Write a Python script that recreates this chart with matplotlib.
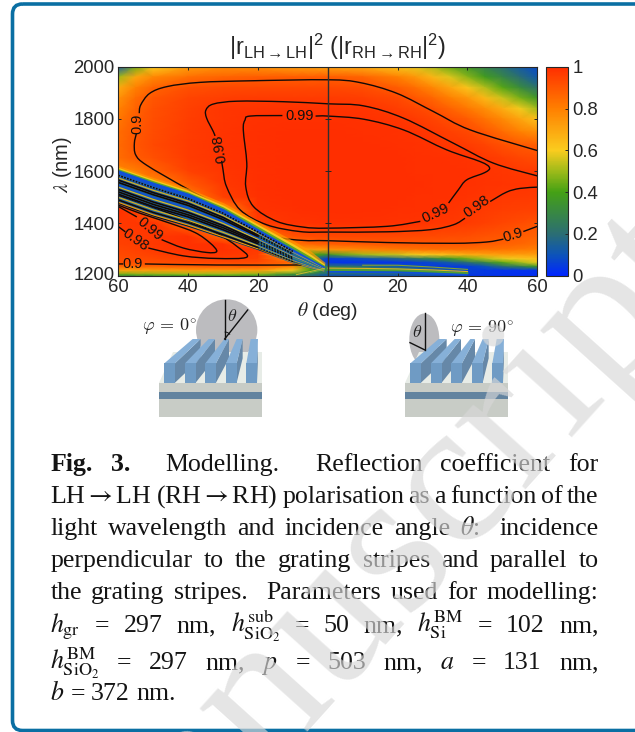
import numpy as np
import matplotlib
matplotlib.use("Agg")
import matplotlib.pyplot as plt
from matplotlib.colors import LinearSegmentedColormap, Normalize
from matplotlib.patches import Polygon, Ellipse, FancyBboxPatch, Arc, PathPatch
from matplotlib.path import Path
from matplotlib.cm import ScalarMappable
from matplotlib.transforms import ScaledTranslation

# ---------- heat-map values ----------
thetas = [-60, -55, -50, -40, -30, -20, -10, -5, 0, 10, 20, 25, 30, 35, 40, 45, 50, 55, 60]
lambdas = [2000, 1960, 1920, 1880, 1840, 1800, 1750, 1700, 1650, 1600, 1550, 1500,
           1450, 1400, 1350, 1320, 1300, 1280, 1265, 1250, 1235, 1220, 1205, 1200]
reflect = [
 [.12, .45, .60, .72, .76, .75, .72, .71, .70, .68, .62, .58, .52, .44, .36, .28, .20, .13, .08],
 [.50, .70, .78, .84, .87, .885, .885, .885, .885, .87, .80, .74, .66, .57, .48, .38, .30, .20, .12],
 [.68, .80, .87, .915, .93, .935, .935, .935, .935, .925, .885, .84, .78, .70, .62, .52, .42, .32, .22],
 [.75, .85, .90, .945, .96, .965, .967, .967, .967, .96, .93, .90, .86, .80, .74, .65, .55, .46, .36],
 [.79, .87, .915, .955, .978, .983, .985, .985, .985, .982, .96, .94, .915, .87, .82, .76, .68, .59, .50],
 [.82, .885, .92, .96, .98, .99, .993, .993, .993, .99, .98, .965, .945, .92, .885, .83, .77, .70, .63],
 [.84, .895, .925, .962, .981, .993, .997, .998, .998, .996, .99, .985, .975, .955, .935, .90, .85, .80, .76],
 [.85, .90, .93, .967, .982, .995, .998, .999, .999, .998, .995, .99, .985, .975, .965, .945, .915, .895, .88],
 [.84, .89, .915, .968, .983, .995, .998, .999, .999, .999, .997, .995, .993, .99, .985, .975, .96, .94, .925],
 [.78, .80, .87, .95, .98, .995, .998, .999, .999, .999, .998, .996, .995, .993, .989, .984, .978, .972, .965],
 [.85, .82, .75, .89, .975, .994, .998, .999, .999, .999, .998, .997, .996, .993, .989, .985, .982, .982, .982],
 [.93, .85, .80, .80, .955, .992, .997, .998, .999, .999, .998, .996, .994, .99, .985, .98, .975, .97, .965],
 [.99, .95, .85, .80, .75, .985, .995, .997, .998, .998, .996, .993, .99, .983, .975, .967, .96, .955, .95],
 [.975, .98, .985, .85, .80, .96, .985, .988, .99, .99, .988, .985, .98, .973, .965, .955, .94, .925, .905],
 [.96, .968, .975, .99, .85, .80, .91, .925, .93, .935, .935, .933, .93, .925, .92, .91, .90, .885, .87],
 [.95, .96, .97, .99, .992, .85, .82, .86, .88, .89, .895, .895, .895, .895, .895, .885, .875, .86, .84],
 [.94, .952, .965, .985, .99, .97, .72, .72, .74, .78, .82, .83, .84, .84, .84, .835, .83, .815, .80],
 [.93, .94, .95, .975, .98, .96, .60, .40, .35, .50, .55, .59, .62, .65, .68, .70, .72, .72, .72],
 [.92, .928, .935, .95, .96, .95, .75, .30, .05, .10, .18, .24, .30, .37, .45, .52, .58, .62, .64],
 [.91, .915, .92, .93, .93, .925, .85, .35, .03, .03, .03, .05, .08, .13, .20, .30, .42, .50, .58],
 [.86, .865, .87, .88, .88, .88, .80, .45, .25, .20, .12, .08, .04, .04, .05, .10, .20, .28, .38],
 [.70, .71, .72, .73, .73, .72, .60, .40, .30, .30, .30, .25, .20, .12, .06, .04, .03, .03, .03],
 [.45, .47, .48, .50, .50, .48, .35, .25, .15, .15, .15, .14, .12, .08, .05, .04, .03, .02, .02],
 [.32, .34, .35, .38, .38, .36, .25, .18, .10, .10, .10, .09, .08, .05, .03, .03, .02, .02, .02],
]

# ---------- contour lines (nan = label gap) ----------
nan = float("nan")
c90_top_t = [-54.0, -53.6, -51, -46, -36.6, -22.3, 0, 9.3, 19.8, 30.3, 40.8, 60]
c90_top_l = [1822, 1853, 1898, 1924, 1940, 1946, 1950, 1939, 1898, 1828, 1758, 1679]
c90_low_t = [-54.8, -55.4, -55, -52, -41.4, -31.8, -22.3, -14.6, -7, 0, 17, 36, 45.5, 50.3, nan, 56, 60]
c90_low_l = [1745, 1707, 1662, 1624, 1541, 1471, 1389, 1348, 1335, 1334, 1327, 1324, 1329, 1340, nan, 1369, 1389]
c98_top_t = [-30.4, -30, -29, -25.1, -17.5, -8, 0, 17, 29.3, 36, 39.3, nan, 46.5, 51.2, 55, 60]
c98_top_l = [1640, 1605, 1541, 1452, 1395, 1369, 1367, 1368, 1376, 1395, 1420, nan, 1484, 1520, 1534, 1539]
c98_up_t = [-32.3, -32.8, -34.7, -34.9, -32.8, -26, -12.7, 0, 10.3, 21.7, 36, 47.4, 60]
c98_up_l = [1735, 1752, 1803, 1834, 1857, 1868, 1866, 1858, 1850, 1803, 1707, 1631, 1582]
c99_t = [-3.5, 0, 10.3, 21.7, 34, 43.6, 46.3, 45, 39.8, 37.4, 34.6, nan, 26.5, 17, 0, -7, -14.6, -21.3, -23.5, -23.2, -24.2, -23.7, -22.3, -13.0]
c99_l = [1811, 1811, 1799, 1758, 1682, 1637, 1614, 1595, 1567, 1529, 1478, nan, 1408, 1389, 1382, 1386, 1408, 1465, 1541, 1631, 1758, 1796, 1811, 1813]
lobe99_t = [-60, -54.7, nan, -47.6, -41.4, -34.7, -31.8, -33.7, -38, -45, -54, -60]
lobe99_l = [1465, 1425, nan, 1338, 1306, 1289, 1293, 1325, 1365, 1400, 1440, 1470]
lobe98_t = [-60, -58, nan, -51.4, -41.4, -31.8, -23.2, -26, -31.8, -39.5, -48, -60]
lobe98_l = [1388, 1368, nan, 1306, 1276, 1266, 1271, 1312, 1363, 1408, 1452, 1508]
c90_base_t = [-52.4, -31.8, -7.5]
c90_base_l = [1245, 1241, 1241]
c90_edge_t = [-7.5, -20, -30, -40, -50, -60]
c90_edge_l = [1241, 1302, 1347, 1391, 1430, 1478]
c90_stub_t = [-60, -58.6]
c90_stub_l = [1245, 1245]
contours = [(c90_top_t, c90_top_l), (c90_low_t, c90_low_l), (c98_top_t, c98_top_l),
            (c98_up_t, c98_up_l), (c99_t, c99_l), (lobe99_t, lobe99_l), (lobe98_t, lobe98_l),
            (c90_base_t, c90_base_l), (c90_edge_t, c90_edge_l), (c90_stub_t, c90_stub_l)]

clabel_text = ["0.9", "0.98", "0.99", "0.99", "0.98", "0.9", "0.99", "0.98", "0.9"]
clabel_t = [-54.5, -30.9, -8, -51, -55, -56, 30.8, 42.7, 53]
clabel_l = [1783, 1688, 1811, 1380, 1338, 1245, 1440, 1465, 1354]
clabel_r = [90, 100, 0, -40, -35, 0, 25, 35, 17]

# ---------- diffraction band ----------
band_t = [-60, -50, -40, -30, -20, -10, -5, -1]
band_top = [1599, 1552, 1510, 1452, 1376, 1299, 1261, 1229]
band_bot = [1475, 1427, 1388, 1344, 1299, 1248, 1229, 1216]
halo_orange = [1612, 1566, 1525, 1470, 1397, 1325, 1285, 1242]
halo_yellow = [1606, 1560, 1518, 1462, 1388, 1314, 1274, 1236]
halo_green = [1602, 1556, 1513, 1456, 1381, 1305, 1266, 1232]
halo_blue = [1597, 1550, 1508, 1449, 1372, 1295, 1257, 1228]
st_a = [1584, 1537, 1495, 1439, 1367, 1293, 1257, 1227]
st_b = [1574, 1527, 1486, 1430, 1361, 1289, 1255, 1226]
st_c = [1566, 1518, 1477, 1423, 1355, 1285, 1252, 1225]
st_d = [1557, 1510, 1469, 1415, 1350, 1282, 1250, 1225]
st_e = [1547, 1500, 1459, 1407, 1344, 1278, 1248, 1224]
st_f = [1539, 1492, 1451, 1400, 1339, 1275, 1246, 1223]
st_g = [1530, 1482, 1442, 1392, 1333, 1270, 1243, 1222]
st_h = [1521, 1473, 1433, 1384, 1328, 1267, 1241, 1221]
st_i = [1512, 1464, 1425, 1376, 1322, 1263, 1239, 1220]
st_j = [1500, 1452, 1412, 1366, 1314, 1258, 1235, 1219]
st_k = [1490, 1442, 1403, 1357, 1308, 1254, 1233, 1218]
st_m = [1481, 1433, 1394, 1349, 1303, 1250, 1231, 1217]
stripes_colour = [(st_a, "#2a6ad0"), (st_b, "#d8b020"), (st_c, "#1060c0"), (st_d, "#3a9040"),
                  (st_e, "#1050d8"), (st_f, "#d8b828"), (st_g, "#2070c0"), (st_h, "#60a030"),
                  (st_i, "#1060c0"), (st_j, "#d8b020"), (st_k, "#2a80a0"), (st_m, "#e89810")]
stripes_black = [st_c, st_d, st_g, st_h, st_i, st_k]

fan_t = [-9, -1]
fan_up = [1204, 1228]
fan_up2 = [1212, 1224]
fan_t2 = [-5, -1]
right_t = [0, 10, 20, 30, 40]
right_yellow = [1229, 1228, 1226, 1222, 1216]
right_yellow2 = [1241, 1240, 1240, 1233, 1224]
right_blue = [1215, 1214, 1213, 1208, 1203]
right_green = [1222, 1222, 1221, 1216, 1210]

caption = [
    [("Fig.", "bold"), ("3.", "bold"), "", "Modelling.", "", "Reflection", "coefficient", "for"],
    [r"LH$\rightarrow$LH", r"(RH$\rightarrow$RH)", "polarisation", "as", "a", "function", "of", "the"],
    ["light", "wavelength", "and", "incidence", "angle", r"$\theta$:", "", "incidence"],
    ["perpendicular", "to", "the", "grating", "stripes", "and", "parallel", "to"],
    ["the", "grating", "stripes.", "", "Parameters", "used", "for", "modelling:"],
    [r"$h_{\mathrm{gr}}$", "=", "297", "nm,", r"$h_{\mathrm{SiO}_2}^{\mathrm{sub}}$", "=", "50", "nm,",
     r"$h_{\mathrm{Si}}^{\mathrm{BM}}$", "=", "102", "nm,"],
    [r"$h_{\mathrm{SiO}_2}^{\mathrm{BM}}$", "=", "297", "nm,", r"$p$", "=", "503", "nm,", r"$a$", "=", "131", "nm,"],
    [r"$b$", "=", "372", "nm."],
]
caption_base = [471, 503, 535, 567, 599, 632, 669, 700]

# ---------- figure ----------
plt.rcParams["font.family"] = ["Liberation Sans", "DejaVu Sans"]
plt.rcParams["mathtext.fontset"] = "custom"
plt.rcParams["mathtext.rm"] = "Liberation Sans"
plt.rcParams["mathtext.it"] = "Liberation Sans:italic"
plt.rcParams["mathtext.bf"] = "Liberation Sans:bold"
plt.rcParams["mathtext.fallback"] = "stix"

W, H = 635, 732
fig = plt.figure(figsize=(W / 100, H / 100), dpi=100, facecolor="white")

def rect(l, t, r, b):
    return [l / W, 1 - b / H, (r - l) / W, (b - t) / H]

pg = fig.add_axes([0, 0, 1, 1], zorder=0)
pg.set_xlim(0, W); pg.set_ylim(H, 0); pg.axis("off")
pg.add_patch(FancyBboxPatch((12.5, 4), 640, 726.5, boxstyle="round,pad=0,rounding_size=10",
                            fc="none", ec="#0a6fa3", lw=2.6, clip_on=False))

cmap = LinearSegmentedColormap.from_list("r", [
    (0.0, (0.0, 0.15, 1.0)), (0.1, (0.05, 0.33, 0.72)), (0.2, (0.17, 0.43, 0.45)),
    (0.4, (0.27, 0.63, 0.08)), (0.5, (0.62, 0.73, 0.10)), (0.6, (0.98, 0.80, 0.12)),
    (0.8, (1.0, 0.50, 0.0)), (1.0, (1.0, 0.18, 0.0))])

ax = fig.add_axes(rect(118.3, 66.7, 537.3, 275.7), zorder=2)
ax.pcolormesh(thetas, lambdas, np.array(reflect), cmap=cmap, vmin=0, vmax=1, shading="gouraud")
ax.set_xlim(-60, 60); ax.set_ylim(1200, 2000)

def smooth(ax, tv, lv, **kw):
    """Draw a contour as a smooth curve through the read points (nan breaks it)."""
    pts = np.column_stack([tv, lv])
    breaks = np.where(np.isnan(pts[:, 0]))[0]
    for seg in np.split(pts, breaks):
        seg = seg[~np.isnan(seg[:, 0])]
        if len(seg) < 2:
            continue
        v, c = [seg[0]], [Path.MOVETO]
        for i in range(len(seg) - 1):
            p0 = seg[max(i - 1, 0)]; p1 = seg[i]; p2 = seg[i + 1]; p3 = seg[min(i + 2, len(seg) - 1)]
            v += [p1 + (p2 - p0) / 6, p2 - (p3 - p1) / 6, p2]
            c += [Path.CURVE4] * 3
        ax.add_patch(PathPatch(Path(v, c), fc="none", **kw))

ax.plot(band_t, halo_orange, color="#ff9a00", lw=3.0, alpha=.7, solid_capstyle="butt")
ax.plot(band_t, halo_yellow, color="#f6c81c", lw=2.6, solid_capstyle="butt")
ax.plot(band_t, halo_green, color="#60a828", lw=2.2, solid_capstyle="butt")
ax.fill_between(band_t, band_bot, band_top, color="#1a5fa0", lw=0)
ax.plot(band_t, halo_blue, color="#1050d8", lw=2.4, solid_capstyle="butt")
for s, c in stripes_colour:
    ax.plot(band_t[:5], s[:5], color=c, lw=.9, solid_capstyle="butt")
    ax.plot(band_t[4:], s[4:], color=c, lw=.55, alpha=.85, solid_capstyle="butt")
for s in stripes_black:
    ax.plot(band_t[:5], s[:5], color="#120806", lw=1.2, solid_capstyle="butt")
    ax.plot(band_t[4:6], s[4:6], color="#120806", lw=.8, ls=(0, (1.5, 1.2)))
ax.plot(band_t[:6], st_a[:6], color="#120806", lw=1.1, ls=(0, (1.2, .8)))
ax.plot(fan_t, fan_up, color="#c8b830", lw=.7)
ax.plot(fan_t2, fan_up2, color="#70b040", lw=.7)
ax.plot(right_t, right_blue, color="#1050d8", lw=1.3)
ax.plot(right_t, right_green, color="#50a030", lw=1.3)
ax.plot(right_t, right_yellow, color="#e0b420", lw=.8)
ax.plot(right_t[1:], right_yellow2[1:], color="#80a030", lw=.8)

for tv, lv in contours:
    smooth(ax, tv, lv, ec="#120a08", lw=1.0)
for s, tv, lv, r in zip(clabel_text, clabel_t, clabel_l, clabel_r):
    ax.text(tv, lv, s, fontsize=10.5, rotation=r, rotation_mode="anchor", ha="center", va="center", color="#111111")

ax.axvline(0, color="#303030", lw=1.0)
ax.set_xticks([-60, -40, -20, 0, 20, 40, 60])
ax.set_xticklabels(["60", "40", "20", "0", "20", "40", "60"])
ax.set_yticks([1200, 1400, 1600, 1800, 2000])
ax.tick_params(direction="in", length=2.5, width=.7, color="#262626", labelcolor="#262626",
               labelsize=13.3, top=True, right=True, pad=2.5)
for t in ax.get_yticklabels()[:1]:
    t.set_transform(t.get_transform() + ScaledTranslation(0, 2.5 / 100, fig.dpi_scale_trans))
for sp in ax.spines.values():
    sp.set_color("#262626"); sp.set_linewidth(.8)
ax.plot([0] * 5, [1200, 1400, 1600, 1800, 2000], ls="none", marker="_", ms=5, mew=.7, color="#262626")

cax = fig.add_axes(rect(545.7, 66.7, 568.3, 275.7), zorder=2)
cb = fig.colorbar(ScalarMappable(Normalize(0, 1), cmap), cax=cax)
cb.set_ticks([0, .2, .4, .6, .8, 1])
cb.set_ticklabels(["0", "0.2", "0.4", "0.6", "0.8", "1"])
cax.tick_params(direction="in", length=2.5, width=.7, color="#262626", labelcolor="#262626", labelsize=13.3, pad=3)
cb.outline.set_edgecolor("#262626"); cb.outline.set_linewidth(.8)

ov = fig.add_axes([0, 0, 1, 1], zorder=3)
ov.set_xlim(0, W); ov.set_ylim(H, 0); ov.axis("off"); ov.patch.set_alpha(0)

ov.text(337, 47, r"$|\mathrm{r}_{\mathrm{LH}\rightarrow\mathrm{LH}}|^{2}$ $(|\mathrm{r}_{\mathrm{RH}\rightarrow\mathrm{RH}}|^{2})$",
        fontsize=16.8, ha="center", va="center", color="#262626")
ov.text(62, 164, r"$\lambda$ (nm)", fontsize=14.5, rotation=90, ha="center", va="center", color="#262626", math_fontfamily="stix")
ov.text(328, 311, r"$\theta$ (deg)", fontsize=14, ha="center", va="center", color="#262626", math_fontfamily="stix")

def z(x, y):
    return (130 + x / 3, 290 + y / 3)

def grating(dx, fronts, backs):
    ov.add_patch(Polygon([z(87 + dx, 278), z(395 + dx, 278), z(395 + dx, 185), z(130 + dx, 185)], fc="#e7ece7", lw=0))
    ov.add_patch(Polygon([z(87 + dx, 278), z(395 + dx, 278), z(395 + dx, 380), z(87 + dx, 380)], fc="#c8ccc6", lw=0))
    ov.add_patch(Polygon([z(87 + dx, 306), z(395 + dx, 306), z(395 + dx, 326), z(87 + dx, 326)], fc="#62839f", lw=0))
    for fx, (b1, b2) in zip(fronts, backs):
        fx += dx; b1 += dx; b2 += dx
        ov.add_patch(Polygon([z(fx + 32, 220), z(b2, 147), z(b2, 205), z(fx + 32, 278)], fc="#6688a8", lw=0))
        ov.add_patch(Polygon([z(fx, 220), z(fx + 32, 220), z(b2, 147), z(b1, 147)], fc="#86b0d8", lw=0))
        ov.add_patch(Polygon([z(fx, 220), z(fx + 32, 220), z(fx + 32, 278), z(fx, 278)], fc="#6f9bc4", lw=0))

fronts = [103, 165, 226, 288, 349]
backs = [(188, 212), (236, 255), (283, 297), (320, 338), (362, 384)]

ov.add_patch(Ellipse(z(290, 120), 184 / 3, 184 / 3, fc="#bcbcbf", lw=0))
grating(0, fronts, backs)
ov.plot(*zip(z(284, 30), z(284, 147)), color="#111111", lw=1.0)
ov.plot(*zip(z(284, 147), z(353, 60)), color="#111111", lw=1.0)
ov.add_patch(Arc(z(284, 147), 14, 14, theta1=-90, theta2=-40, color="#111111", lw=.7))
ov.text(*z(305, 80), r"$\theta$", fontsize=13, ha="center", va="center", math_fontfamily="cm", color="#222222")
ov.text(*z(117, 110), r"$\varphi\,=\,0^{\circ}$", fontsize=13, ha="center", va="center", math_fontfamily="cm", color="#222222")

ov.add_patch(Ellipse(z(883, 148), 90 / 3, 155 / 3, fc="#bcbcbf", lw=0))
grating(738, fronts, backs)
ov.plot(*zip(z(885, 70), z(885, 180)), color="#111111", lw=1.0)
ov.plot(*zip(z(885, 180), z(840, 158)), color="#111111", lw=1.0)
ov.text(*z(862, 128), r"$\theta$", fontsize=13, ha="center", va="center", math_fontfamily="cm", color="#222222")
ov.text(*z(1057, 115), r"$\varphi\,=\,90^{\circ}$", fontsize=13, ha="center", va="center", math_fontfamily="cm", color="#222222")

LEFT, RIGHT = 50.5, 598.5
renderer = fig.canvas.get_renderer()
cap_family = ["Liberation Serif", "DejaVu Serif"]
cap_size = 18.6

def mk(tok, x, y):
    w = "normal"
    if isinstance(tok, tuple):
        tok, w = tok
    return ov.text(x, y, tok, fontsize=cap_size, family=cap_family, weight=w, ha="left", va="baseline",
                   color="#141414", math_fontfamily="stix")

for i, (line, yb) in enumerate(zip(caption, caption_base)):
    arts, widths = [], []
    for t in line:
        if t == "":
            arts.append(None); widths.append(0); continue
        a = mk(t, 0, yb)
        arts.append(a)
        widths.append(a.get_window_extent(renderer).width)
    gaps = len(line) - 1
    sp = 6.0 if i == len(caption) - 1 else (RIGHT - LEFT - sum(widths)) / gaps
    x = LEFT
    for a, w in zip(arts, widths):
        if a is not None:
            a.set_x(x)
        x += w + sp

wm = fig.add_axes([0, 0, 1, 1], zorder=4)
wm.set_xlim(0, W); wm.set_ylim(H, 0); wm.axis("off"); wm.patch.set_alpha(0)
wm.text(398, 625, "Manuscript", fontsize=150, rotation=48, rotation_mode="anchor", ha="center", va="baseline",
        color="#d8d8d8", alpha=.66, family="Liberation Serif", clip_on=True)

fig.savefig("out.png", dpi=100)
